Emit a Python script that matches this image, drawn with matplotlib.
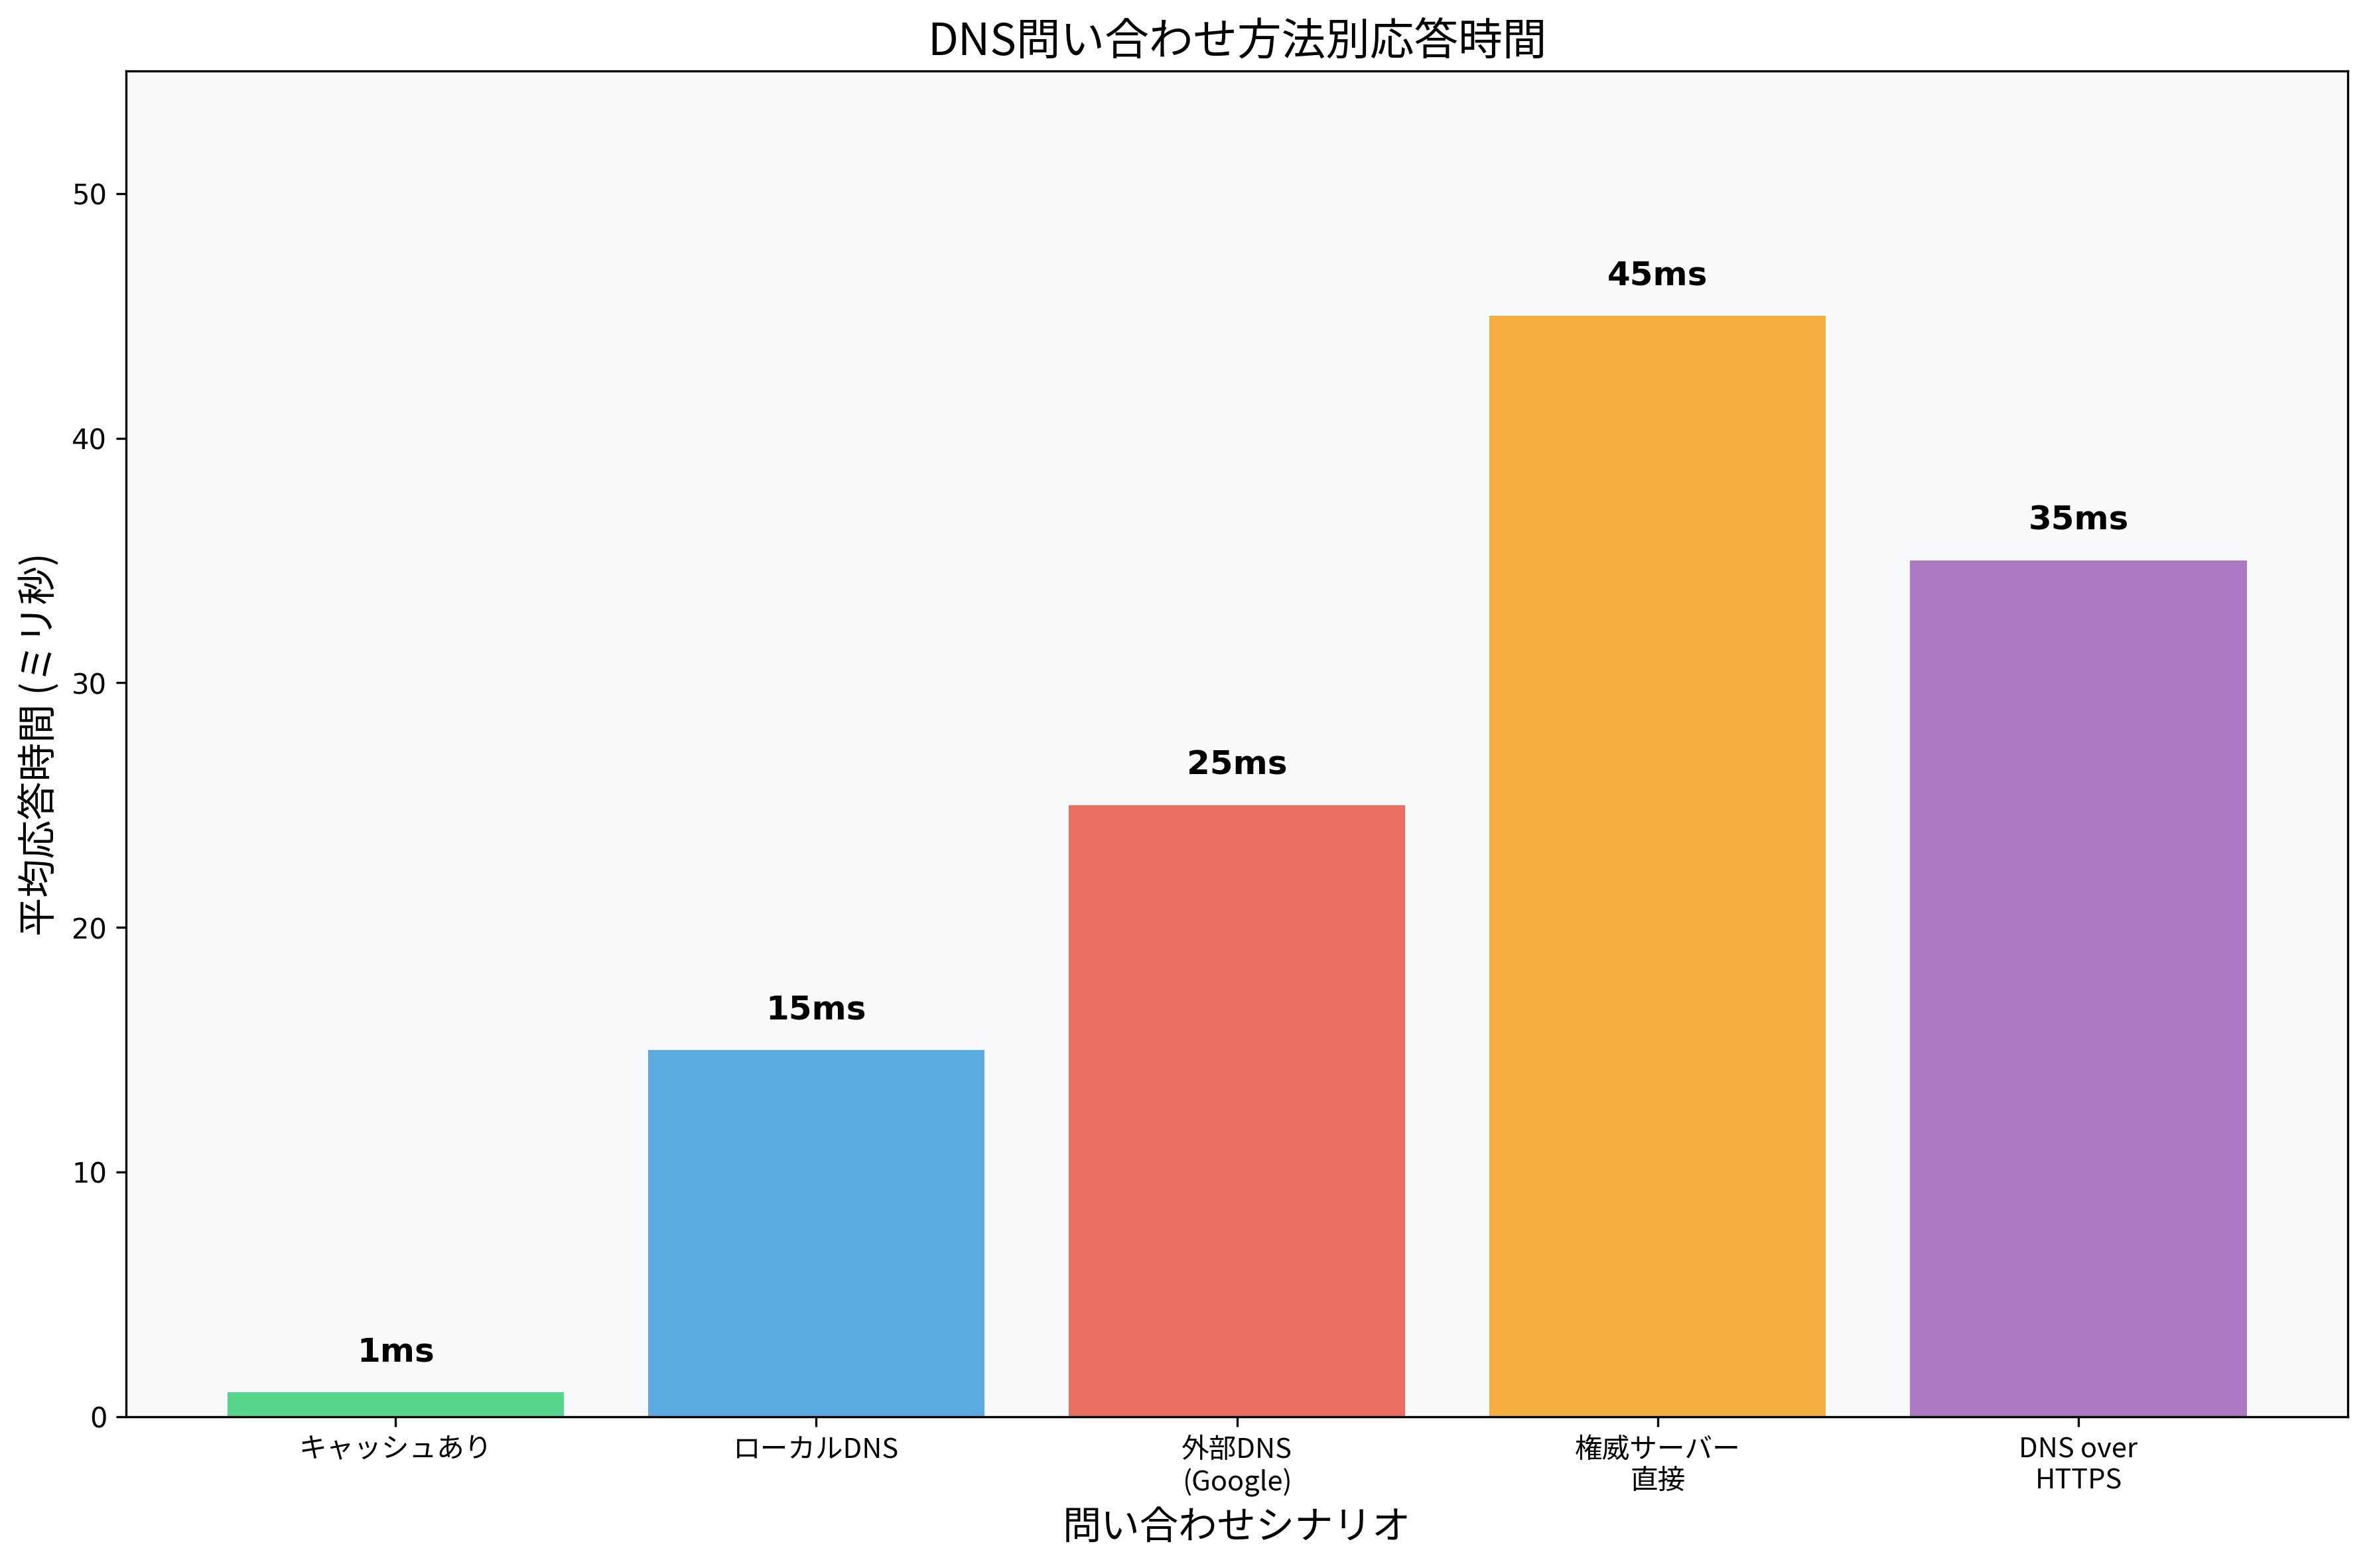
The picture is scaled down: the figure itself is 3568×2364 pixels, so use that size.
import matplotlib
matplotlib.use('Agg')
import matplotlib.pyplot as plt

scenarios = ['キャッシュあり', 'ローカルDNS', '外部DNS\n(Google)', '権威サーバー\n直接', 'DNS over\nHTTPS']
times = [1, 15, 25, 45, 35]
colors = ['#2ecc71', '#3498db', '#e74c3c', '#f39c12', '#9b59b6']

plt.rcParams['font.family'] = ['Noto Sans CJK JP', 'DejaVu Sans']

fig, ax = plt.subplots(figsize=(12, 8))
ax.set_facecolor('#f8f9fa')
bars = ax.bar(scenarios, times, color=colors, alpha=0.8)
for bar, t in zip(bars, times):
    ax.text(bar.get_x() + bar.get_width() / 2, t + 1, f'{t}ms',
            ha='center', va='bottom', fontweight='bold', fontsize=12, family='DejaVu Sans')
ax.set_ylim(0, 55)
ax.set_title('DNS問い合わせ方法別応答時間', fontsize=16)
ax.set_xlabel('問い合わせシナリオ', fontsize=14)
ax.set_ylabel('平均応答時間 (ミリ秒)', fontsize=14)
for lbl in ax.get_yticklabels():
    lbl.set_family('DejaVu Sans')
plt.tight_layout()
plt.savefig('out.png', dpi=300, bbox_inches='tight')
